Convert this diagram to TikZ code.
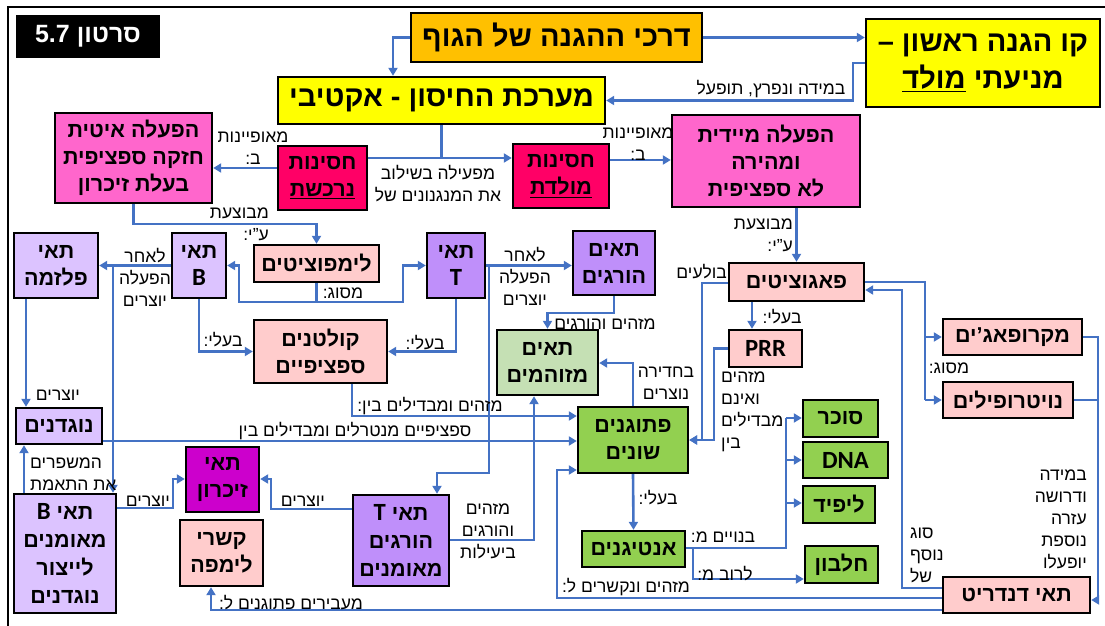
\documentclass[tikz,border=0pt]{standalone}
\usepackage{fontspec}
\setmainfont{Liberation Sans}[Script=Hebrew]
\newfontfamily\latinfont{Liberation Sans}
\newfontfamily\calfont{Carlito}[Scale=1.15]
\TeXXeTstate=1
\usetikzlibrary{arrows.meta}
\newcommand\heb[1]{\beginR#1\endR}
\newcommand\Lat[1]{\beginL{\calfont #1}\endL}
\definecolor{conn}{HTML}{4472C4}
\definecolor{orangeC}{HTML}{FFC000}
\definecolor{yellowC}{HTML}{FFFF00}
\definecolor{hot}{HTML}{FF0066}
\definecolor{pinkC}{HTML}{FF66CC}
\definecolor{lpink}{HTML}{FFCCCC}
\definecolor{lav}{HTML}{DCC3FF}
\definecolor{purp}{HTML}{BF8FFA}
\definecolor{mag}{HTML}{CC00CC}
\definecolor{lgreen}{HTML}{C5E0B4}
\definecolor{greenC}{HTML}{92D050}
% box from corner (x1,y1) to (x2,y2)
\newcommand\bx[7]{\node[box,#6,minimum width=#4pt-#2pt,minimum height=#5pt-#3pt] (#1) at ({(#2+#4)/2},{(#3+#5)/2}) {#7};}
\begin{document}
\begin{tikzpicture}[x=1pt,y=-1pt,
  box/.style={draw=black,line width=2.4pt,align=center,inner sep=0pt,
    font=\bfseries\fontsize{21.5}{27}\selectfont},
  big/.style={font=\bfseries\fontsize{29}{37}\selectfont},
  lbl/.style={font=\fontsize{17.5}{22}\selectfont,align=center,inner sep=0pt},
  arr/.style={draw=conn,line width=2.6pt,-{Triangle[length=8pt,width=9pt]}},
  ln/.style={draw=conn,line width=2.6pt},
]
\useasboundingbox (0,0) rectangle (1105,625);
\begin{scope}
\clip (0,0) rectangle (1105,625);
\draw[black,line width=1.6pt] (8,640) -- (8,7) -- (1130,7);
\end{scope}

% ---- nodes
\bx{title}{17}{16}{159}{57}{fill=black,text=white,font=\bfseries\fontsize{25}{28}\selectfont}{\heb{סרטון \beginL{\latinfont 5.7}\endL}}
\bx{dar}{411}{13}{702}{62}{fill=orangeC,big}{\heb{דרכי ההגנה של הגוף}}
\bx{kav}{866}{19}{1100}{107}{fill=yellowC,big}{\heb{קו הגנה ראשון –}\\\heb{מניעתי \underline{מולד}}}
\bx{maar}{278}{77}{605}{124}{fill=yellowC,big}{\heb{מערכת החיסון - אקטיבי}}
\bx{nirk}{278}{146}{367}{210}{fill=hot}{\heb{חסינות}\\\heb{\underline{נרכשת}}}
\bx{mold}{513}{144}{609}{208}{fill=hot}{\heb{חסינות}\\\heb{\underline{מולדת}}}
\bx{slow}{55}{113}{212}{203}{fill=pinkC}{\heb{הפעלה איטית}\\\heb{חזקה ספציפית}\\\heb{בעלת זיכרון}}
\bx{fast}{672}{115}{860}{207}{fill=pinkC}{\heb{הפעלה מיידית}\\\heb{ומהירה}\\\heb{לא ספציפית}}
\bx{lymph}{254}{245}{379}{282}{fill=lpink}{\heb{לימפוציטים}}
\bx{bcell}{172}{233}{226}{298}{fill=lav}{\heb{תאי}\\\Lat{B}}
\bx{plasma}{14}{233}{98}{298}{fill=lav}{\heb{תאי}\\\heb{פלזמה}}
\bx{tcell}{427}{233}{485}{298}{fill=purp}{\heb{תאי}\\\Lat{T}}
\bx{killer}{573}{231}{655}{295}{fill=purp}{\heb{תאים}\\\heb{הורגים}}
\bx{phago}{729}{263}{864}{301}{fill=lpink}{\heb{פאגוציטים}}
\bx{infected}{497}{330}{598}{395}{fill=lgreen}{\heb{תאים}\\\heb{מזוהמים}}
\bx{recept}{254}{320}{387}{383}{fill=lpink}{\heb{קולטנים}\\\heb{ספציפיים}}
\bx{prr}{729}{330}{802}{367}{fill=lpink}{\Lat{PRR}}
\bx{macro}{943}{319}{1082}{355}{fill=lpink}{\heb{מקרופאג'ים}}
\bx{neutro}{943}{382}{1073}{418}{fill=lpink}{\heb{נויטרופילים}}
\bx{antib}{16}{408}{102}{444}{fill=lav}{\heb{נוגדנים}}
\bx{path}{578}{407}{688}{473}{fill=greenC}{\heb{פתוגנים}\\\heb{שונים}}
\bx{sugar}{803}{400}{878}{437}{fill=greenC}{\heb{סוכר}}
\bx{dna}{803}{442}{888}{478}{fill=greenC}{\Lat{DNA}}
\bx{lipid}{803}{486}{875}{523}{fill=greenC}{\heb{ליפיד}}
\bx{protein}{805}{546}{878}{583}{fill=greenC}{\heb{חלבון}}
\bx{antig}{582}{531}{685}{567}{fill=greenC}{\heb{אנטיגנים}}
\bx{memory}{186}{447}{259}{512}{fill=mag}{\heb{תאי}\\\heb{זיכרון}}
\bx{nodes}{180}{520}{263}{586}{fill=lpink}{\heb{קשרי}\\\heb{לימפה}}
\bx{btrain}{14}{494}{116}{613}{fill=lav,font=\bfseries\fontsize{21.5}{28}\selectfont}{\heb{תאי \Lat{B}}\\\heb{מאומנים}\\\heb{לייצור}\\\heb{נוגדנים}}
\bx{tkill}{353}{495}{449}{586}{fill=purp,font=\bfseries\fontsize{21.5}{28}\selectfont}{\heb{תאי \Lat{T}}\\\heb{הורגים}\\\heb{מאומנים}}
\bx{dend}{943}{577}{1090}{613}{fill=lpink}{\heb{תאי דנדריט}}

% ---- connectors
\draw[arr] (dar.west) -| (maar.north -| 393,0);
\draw[arr] (dar.east) -- (dar.east -| kav.west);
\draw[arr] (kav.west) -- (853,63) |- (maar.east);
\draw[ln] (maar.south) -- (maar.south |- 0,158);
\draw[arr] (nirk.east |- 0,158) -- (mold.west |- 0,158);
\draw[arr] (nirk.west |- 0,168) -- (slow.east |- 0,168);
\draw[arr] (mold.east |- 0,160) -- (fast.west |- 0,160);
\draw[arr] (slow.south) -- (slow.south |- 0,224) -| (lymph.north);
\draw[arr] (phago.north |- fast.south) -- (phago.north);
\coordinate (bus1) at (lymph.south |- 0,302);
\draw[ln] (lymph.south) -- (bus1);
\draw[arr] (bus1) -- (239,302) |- (bcell.east);
\draw[arr] (bus1) -- (403,302) |- (tcell.west);
\draw[arr] (bcell.west) -- (bcell.west -| plasma.east);
\coordinate (jb) at (bcell.west -| 113,0);
\draw[arr] (jb) -- (btrain.north -| 113,0);
\draw[arr] (bcell.south) |- (recept.west);
\draw[arr] (tcell.south) |- (recept.east);
\draw[arr] (tcell.east) -- (tcell.east -| killer.west);
\coordinate (jt) at (tcell.east -| 489,0);
\draw[arr] (jt) |- (437,473) -- (tkill.north -| 437,0);
\draw[arr] (killer.south) -- (killer.south |- 0,313) -| (infected.north);
\draw[arr] (recept.south -| 352,0) |- (path.west |- 0,416);
\draw[arr] (antib.east |- 0,441) -- (path.west |- 0,441);
\draw[arr] (path.north) |- (infected.east |- 0,363);
\draw[arr] (tkill.east |- 0,540) -| (infected.south -| 534,0);
\draw[arr] (plasma.south -| 26,0) -- (antib.north -| 26,0);
\draw[arr] (btrain.north -| 24,0) -- (antib.south -| 24,0);
\draw[arr] (btrain.east |- 0,508) -| (173,479) -- (memory.west |- 0,479);
\draw[arr] (tkill.west |- 0,509) -| (271,479) -- (memory.east |- 0,479);
\draw[arr] (phago.south -| 752,0) -- (prr.north -| 752,0);
\draw[arr] (phago.west |- 0,283) -| (702,440) -- (path.east |- 0,440);
\draw[arr] (prr.west) -| (714,440) -- (path.east |- 0,440);
\draw[arr] (path.south) -- (antig.north);
\coordinate (ja) at (antig.east |- 0,548);
\draw[ln] (ja) -| (786,418);
\draw[arr] (786,418) -- (sugar.west |- 0,418);
\draw[arr] (786,460) -- (dna.west |- 0,460);
\draw[arr] (786,503) -- (lipid.west |- 0,503);
\draw[arr] (693,548) |- (protein.west |- 0,579);
\draw[ln] (phago.east |- 0,282) -| (925,400);
\draw[arr] (925,337) -- (macro.west);
\draw[arr] (925,400) -- (neutro.west);
\draw[arr] (dend.west |- 0,588) -| (902,290) -- (phago.east |- 0,290);
\draw[arr] (dend.west |- 0,598) -| (557,470) -- (path.west |- 0,470);
\draw[arr] (dend.west |- 0,610) -| (nodes.south -| 211,0);
\draw[ln] (macro.east) -| (1098,600);
\draw[ln] (neutro.east) -- (neutro.east -| 1098,0);
\draw[arr] (1098,600) -- (dend.east |- 0,600);

% ---- connector labels
\node[lbl] (t1) at (771,89) {\heb{במידה ונפרץ, תופעל}};
\node[lbl] (t2) at (438,184) {\heb{מפעילה בשילוב}\\\heb{את המנגנונים של}};
\node[lbl] (t3) at (253,148) {\heb{מאופיינות}\\\heb{ב:}};
\node[lbl] (t4) at (638,144) {\heb{מאופיינות}\\\heb{ב:}};
\node[lbl,align=right,anchor=east] (t5) at (269,224) {\heb{מבוצעת}\\\heb{ע"י:}};
\node[lbl,align=right,anchor=east] (t6) at (793,235) {\heb{מבוצעת}\\\heb{ע"י:}};
\node[lbl] (t7) at (343,293) {\heb{מסוג:}};
\node[lbl] (t8) at (145,277) {\heb{לאחר}\\\heb{הפעלה}\\\heb{יוצרים}};
\node[lbl] (t9) at (525,276) {\heb{לאחר}\\\heb{הפעלה}\\\heb{יוצרים}};
\node[lbl] (t10) at (223,340) {\heb{בעלי:}};
\node[lbl] (t11) at (425,343) {\heb{בעלי:}};
\node[lbl] (t12) at (605,324) {\heb{מזהים והורגים}};
\node[lbl] (t13) at (430,406) {\heb{מזהים ומבדילים בין:}};
\node[lbl] (t14) at (355,431) {\heb{ספציפיים מנטרלים ומבדילים בין}};
\node[lbl] (t15) at (666,383) {\heb{בחדירה}\\\heb{נוצרים}};
\node[lbl] (t16) at (488,531) {\heb{מזהים}\\\heb{והורגים}\\\heb{ביעילות}};
\node[lbl] (t17) at (58,395) {\heb{יוצרים}};
\node[lbl,align=left,anchor=west] (t18) at (30,474) {\heb{המשפרים}\\\heb{את התאמת}};
\node[lbl] (t19) at (148,501) {\heb{יוצרים}};
\node[lbl] (t20) at (303,501) {\heb{יוצרים}};
\node[lbl] (t21) at (782,317) {\heb{בעלי:}};
\node[lbl,anchor=east] (t22) at (727,272) {\heb{בולעים}};
\node[lbl,align=left,anchor=north west] (t23) at (721,372) {\heb{מזהים}\\\heb{ואינם}\\\heb{מבדילים}\\\heb{בין}};
\node[lbl] (t24) at (658,498) {\heb{בעלי:}};
\node[lbl] (t25) at (723,537) {\heb{בנויים מ:}};
\node[lbl] (t26) at (725,574) {\heb{לרוב מ:}};
\node[lbl] (t27) at (949,368) {\heb{מסוג:}};
\node[lbl,align=left,anchor=west] (t28) at (910,555) {\heb{סוג}\\\heb{נוסף}\\\heb{של}};
\node[lbl] (t29) at (626,587) {\heb{מזהים ונקשרים ל:}};
\node[lbl] (t30) at (291,603) {\heb{מעבירים פתוגנים ל:}};
\node[lbl,align=right,anchor=east] (t31) at (1087,519) {\heb{במידה}\\\heb{ודרושה}\\\heb{עזרה}\\\heb{נוספת}\\\heb{יופעלו}};
\end{tikzpicture}
\end{document}
